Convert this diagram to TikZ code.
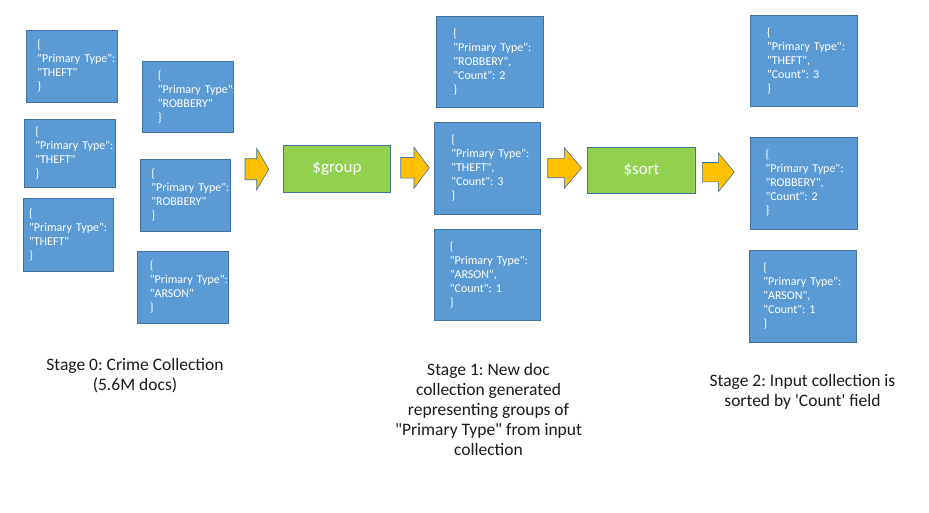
\documentclass[tikz,border=0pt]{standalone}
\usepackage{fontspec}
\newfontfamily\calib{Carlito}
\frenchspacing
\definecolor{boxblue}{HTML}{5B9BD5}
\definecolor{boxedge}{HTML}{41719C}
\definecolor{grn}{HTML}{92D050}
\definecolor{arrowy}{HTML}{FFC000}
\definecolor{txt}{HTML}{1A1A1A}
\tikzset{
  jbox/.style={rectangle, fill=boxblue, draw=boxedge, line width=0.9pt, text=white,
    font=\calib\fontsize{12}{14}\selectfont, align=left, inner ysep=0pt, outer sep=0pt},
  opbox/.style={rectangle, fill=grn, draw=boxedge, line width=0.9pt, text=white,
    font=\calib\fontsize{17}{20}\selectfont, inner sep=0pt, outer sep=0pt},
  blockarr/.style={fill=arrowy, draw=boxedge, line width=0.6pt, line join=miter},
  stagelbl/.style={text=txt, font=\calib\fontsize{17.5}{20}\selectfont, align=center, inner sep=0pt}
}
% \jbox{name}{x1}{y1}{x2}{y2}{leftpad}{text}
\newcommand{\jbox}[7]{%
  \pgfmathsetmacro\jw{#4-#2}\pgfmathsetmacro\jh{#5-#3}%
  \pgfmathsetmacro\jtw{#4-#2-#6-4}%
  \node[jbox, anchor=north west, minimum height=\jh pt, inner xsep=0pt,
        text width=\jtw pt, minimum width=\jw pt] (#1) at (#2,#3)
        {\hspace*{#6pt}\parbox{\jtw pt}{\raggedright\frenchspacing #7}};%
}
% \barrow{name}{x1}{xh}{x2}{yc}{headhalf}{shafthalf}
\newcommand{\barrow}[7]{%
  \coordinate (#1) at (#2,#5);%
  \draw[blockarr] (#2,#5-#7) -- (#3,#5-#7) -- (#3,#5-#6) -- (#4,#5) -- (#3,#5+#6) -- (#3,#5+#7) -- (#2,#5+#7) -- cycle;%
}
\begin{document}
\begin{tikzpicture}[x=1pt,y=-1pt]
\useasboundingbox[fill=white] (0,0) rectangle (929,512);

% Stage 0
\jbox{l1}{26.3}{30.3}{117.3}{102}{6}{\{\\"Primary Type":\\"THEFT"\\\}}
\jbox{l2}{24.3}{119.3}{115.3}{187.3}{6}{\{\\"Primary Type":\\"THEFT"\\\}}
\jbox{l3}{23.3}{198.3}{113.7}{271.3}{2.5}{\{\\"Primary Type":\\"THEFT"\\\}}
\jbox{r1}{142.3}{61.3}{233.3}{132.3}{9}{\{\\"Primary Type":\\"ROBBERY"\\\}}
\jbox{r2}{140.3}{159.3}{230.3}{231.3}{6}{\{\\"Primary Type":\\"ROBBERY"\\\}}
\jbox{r3}{137.3}{251.3}{228.7}{323.3}{7}{\{\\"Primary Type":\\"ARSON"\\\}}

% arrows and operators
\barrow{a1}{245}{256.7}{268.7}{169.2}{20.8}{10.5}
\node[opbox, anchor=north west, minimum width=107.4pt, minimum height=46.6pt] (grp) at (283.3,145.7) {\$group};
\barrow{a2}{400.7}{414}{429.3}{167.8}{20.5}{10.3}

% Stage 1
\jbox{m1}{436.3}{16.3}{543.7}{107.3}{10}{\{\\"Primary Type":\\"ROBBERY",\\"Count": 2\\\}}
\jbox{m2}{434.3}{122.3}{540.3}{214.3}{10}{\{\\"Primary Type":\\"THEFT",\\"Count": 3\\\}}
\jbox{m3}{434.3}{229.3}{540.3}{320.3}{9}{\{\\"Primary Type":\\"ARSON",\\"Count": 1\\\}}

\barrow{a3}{547.7}{564.3}{581.7}{168}{20.3}{9.7}
\node[opbox, anchor=north west, minimum width=108.4pt, minimum height=46.3pt] (srt) at (587.3,147) {\$sort};
\barrow{a4}{702.3}{718.3}{734.3}{172.2}{19.5}{9.7}

% Stage 2
\jbox{n1}{750}{15.3}{857.7}{106.7}{10}{\{\\"Primary Type":\\"THEFT",\\"Count": 3\\\}}
\jbox{n2}{750}{137.3}{857.7}{229.3}{9}{\{\\"Primary Type":\\"ROBBERY",\\"Count": 2\\\}}
\jbox{n3}{749.3}{250}{856.7}{342.7}{8}{\{\\"Primary Type":\\"ARSON",\\"Count": 1\\\}}

% labels
\node[stagelbl, anchor=north] (s0) at (135,358.5) {Stage 0: Crime Collection\\(5.6M docs)};
\node[stagelbl, anchor=north] (s1) at (488.5,363.5) {Stage 1: New doc\\collection generated\\representing groups of\\"Primary Type" from input\\collection};
\node[stagelbl, anchor=north] (s2) at (802.5,374.5) {Stage 2: Input collection is\\sorted by 'Count' field};
\end{tikzpicture}
\end{document}
